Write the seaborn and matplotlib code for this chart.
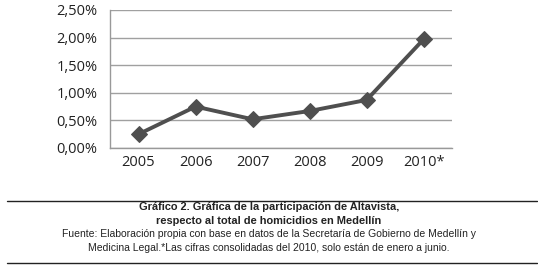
import matplotlib
matplotlib.use("Agg")
import matplotlib.pyplot as plt
import seaborn as sns
import pandas as pd
from matplotlib.ticker import FuncFormatter, FixedLocator

years = ["2005", "2006", "2007", "2008", "2009", "2010*"]
share = [0.25, 0.75, 0.52, 0.67, 0.87, 1.97]
yticks = [0.0, 0.5, 1.0, 1.5, 2.0, 2.5]

title_lines = ["Gráfico 2. Gráfica de la participación de Altavista,",
               "respecto al total de homicidios en Medellín"]
source_lines = ["Fuente: Elaboración propia con base en datos de la Secretaría de Gobierno de Medellín y",
                "Medicina Legal.*Las cifras consolidadas del 2010, solo están de enero a junio."]

df = pd.DataFrame({"year": years, "share": share})
df["pos"] = range(len(years))

sns.set_style("white")
plt.rcParams["font.family"] = ["Open Sans", "DejaVu Sans"]

fig = plt.figure(figsize=(5.38, 2.67), dpi=100)
ax = fig.add_axes([0.2045, 0.4457, 0.636, 0.517])

sns.lineplot(df, x="pos", y="share", ax=ax, color="#4f4f4f", linewidth=2.8,
             marker="D", markersize=8, markeredgecolor="#4f4f4f", zorder=3)

ax.set_xlim(-0.5, len(years) - 0.5)
ax.set_ylim(0, 2.5)
ax.set_yticks(yticks)
ax.yaxis.set_major_formatter(FuncFormatter(lambda v, _: f"{v:.2f}%".replace(".", ",")))
ax.set_xticks(df["pos"])
ax.set_xticklabels(years)
ax.xaxis.set_minor_locator(FixedLocator([i - 0.5 for i in range(len(years) + 1)]))
ax.tick_params(axis="x", which="major", length=0, pad=5, labelsize=10.5, colors="#222222")
ax.tick_params(axis="x", which="minor", length=5, width=1, color="#999999")
ax.tick_params(axis="y", length=0, pad=9, labelsize=10.5, colors="#222222")
ax.grid(axis="y", color="#a0a0a0", linewidth=1)
ax.set_xlabel("")
ax.set_ylabel("")
for s in ["top", "right"]:
    ax.spines[s].set_visible(False)
for s in ["left", "bottom"]:
    ax.spines[s].set_color("#999999")
    ax.spines[s].set_linewidth(1)

# caption block
fig.add_artist(plt.Line2D([0.013, 0.998], [1 - 201 / 267] * 2, color="#222222", linewidth=1))
fig.add_artist(plt.Line2D([0.013, 0.998], [1 - 263 / 267] * 2, color="#222222", linewidth=1))
for txt, ypix in zip(title_lines, [207.5, 220.5]):
    fig.text(0.5, 1 - ypix / 267, txt, ha="center", va="center", fontsize=7.9,
             fontweight="bold", family=["Liberation Sans"], color="#222222")
for txt, ypix in zip(source_lines, [234, 248]):
    fig.text(0.5, 1 - ypix / 267, txt, ha="center", va="center", fontsize=7.5,
             family=["Liberation Sans"], color="#222222")

fig.savefig("out.png", dpi=100)
